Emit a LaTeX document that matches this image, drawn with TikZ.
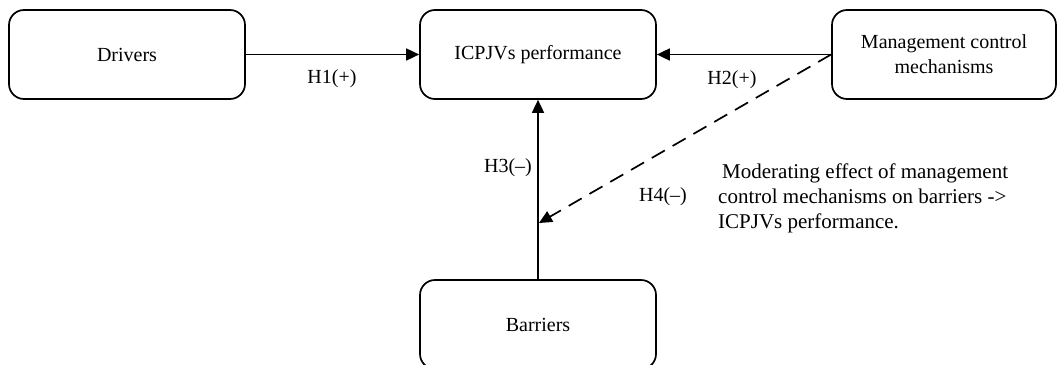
\documentclass[tikz,border=0pt]{standalone}
\usepackage{fontspec}
\setmainfont{Liberation Serif}
\usetikzlibrary{arrows.meta}
\begin{document}
\begin{tikzpicture}[x=1pt,y=-1pt,
  box/.style={draw,line width=1.7pt,rounded corners=15pt,minimum height=89pt,
    inner sep=0pt,align=center,font=\fontsize{20}{25}\selectfont},
  lbl/.style={inner sep=0pt,font=\fontsize{20}{25}\selectfont},
  conn/.style={line width=1.7pt,-{Triangle[length=13pt,width=12pt]}},
  note/.style={inner sep=0pt,align=left,anchor=west,font=\fontsize{21}{25}\selectfont}]
\useasboundingbox (0,0) rectangle (1057,364);
\node[box,minimum width=236pt] (drv) at (127,54.5) {Drivers};
\node[box,minimum width=236pt] (icp) at (538,54.5) {ICPJVs performance};
\node[box,minimum width=224pt] (mcm) at (944,54.5) {Management control\\mechanisms};
\node[box,minimum width=236pt] (bar) at (538,324.5) {Barriers};
\coordinate (mod) at (539,223);
\draw[conn] (drv.east) -- (icp.west);
\draw[conn] (mcm.west) -- (icp.east);
\draw[conn] (bar.north) -- (icp.south);
\draw[conn,dashed,dash pattern=on 15pt off 9pt] (mcm.west) -- (mod);
\node[lbl] (h1) at (332,79) {H1(+)};
\node[lbl] (h2) at (732,80) {H2(+)};
\node[lbl] (h3) at (508,168) {H3(–)};
\node[lbl] (h4) at (663,197) {H4(–)};
\node[note] (txt) at (718,198.5) {\hspace*{4pt}Moderating effect of management\\control mechanisms on barriers ->\\ICPJVs performance.};
\end{tikzpicture}
\end{document}
